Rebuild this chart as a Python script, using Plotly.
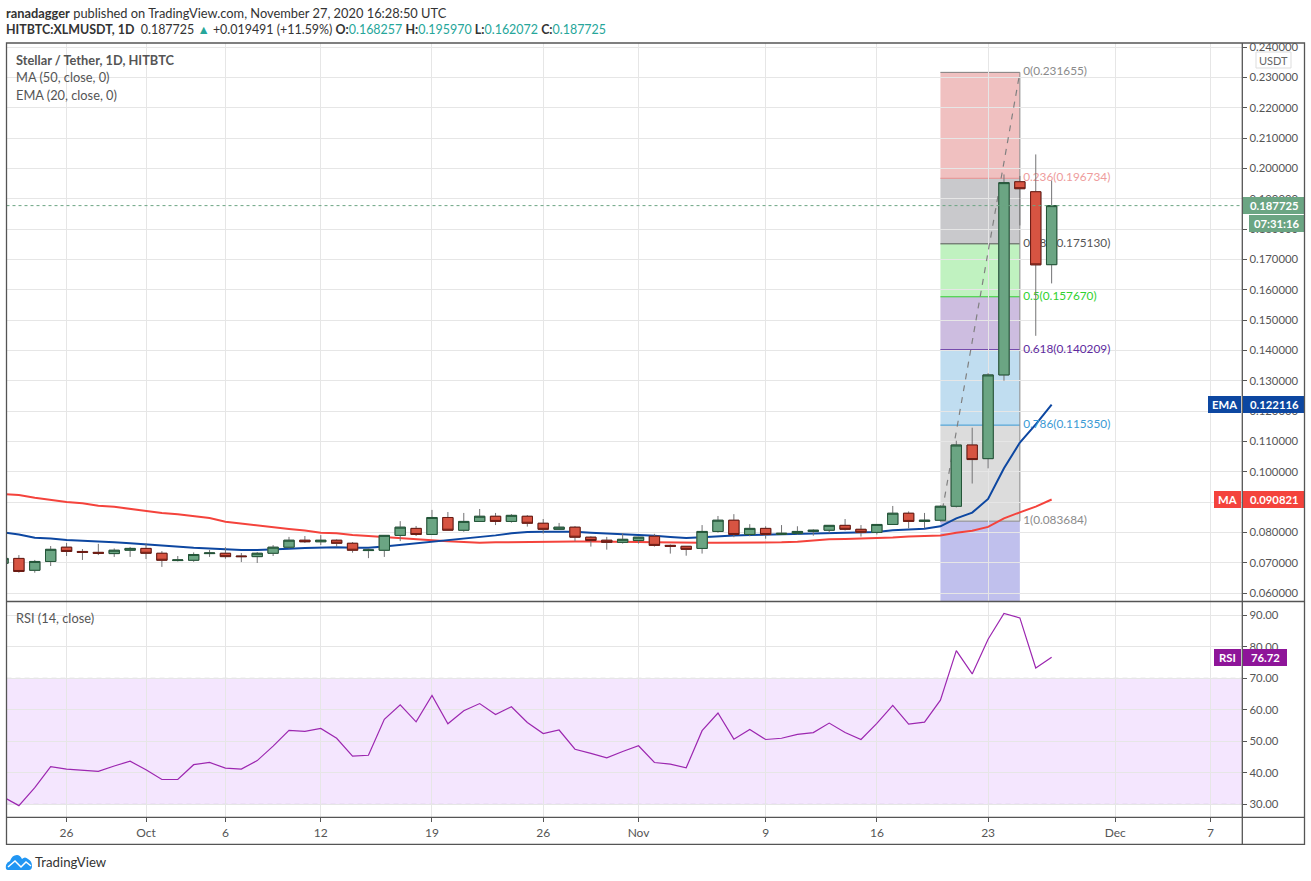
import pandas as pd
import plotly.graph_objects as go

W = 1311
H = 881

dates = pd.date_range("2020-09-22", periods=67).strftime("%Y-%m-%d").tolist()

opens = [.0698, .0714, .0675, .0704, .0751, .0737, .0734, .0730, .0741,
         .0747, .0731, .0707, .0708, .0730, .0731, .0722, .0720, .0731, .0751,
         .0774, .0769, .0774, .0764, .0740, .0741, .0790, .0813, .0793, .0849,
         .0807, .0836, .0853, .0836, .0853, .0830, .0810, .0817, .0784, .0774, .0767,
         .0773, .0787, .0757, .0754, .0747, .0803, .0840, .0793, .0813, .0793,
         .0796, .0803, .0807, .0823, .0810, .0800, .0826, .0863, .0836, .0840,
         .0886, .1088, .1043, .1319, .1956, .1923, .168257]
closes = [.0714, .0671, .0704, .0744, .0737, .0734, .0731, .0741, .0747,
          .0731, .0708, .0709, .0727, .0732, .0720, .0720, .0731, .0751, .0774,
          .0769, .0774, .0764, .0741, .0742, .0790, .0817, .0793, .0849, .0807,
          .0836, .0853, .0836, .0856, .0830, .0810, .0817, .0784, .0773, .0767, .0777,
          .0784, .0757, .0754, .0744, .0803, .0840, .0793, .0813, .0793, .0797,
          .0803, .0807, .0823, .0810, .0800, .0826, .0863, .0836, .0840, .0886,
          .1088, .1040, .1319, .1953, .1933, .1682, .187725]
highs = [.0716, .0725, .0709, .0755, .0765, .0745, .0762, .0747, .0752,
         .0764, .0738, .0722, .0734, .0742, .0751, .0732, .0735, .0758, .0785,
         .0788, .0791, .0777, .0768, .0747, .0791, .0837, .0821, .0874, .0867,
         .0864, .0877, .0864, .0860, .0857, .0844, .0831, .0821, .0787, .0785, .0797,
         .0785, .0795, .0760, .0755, .0824, .0854, .0860, .0827, .0820, .0824,
         .0820, .0810, .0823, .0844, .0824, .0826, .0887, .0869, .0864, .0889,
         .1102, .1145, .1325, .1980, .1975, .2046, .195970]
lows = [.0690, .0667, .0667, .0689, .0722, .0709, .0725, .0719, .0719,
        .0712, .0686, .0704, .0703, .0719, .0713, .0702, .0699, .0722, .0747,
        .0765, .0758, .0753, .0733, .0715, .0719, .0771, .0788, .0793, .0807,
        .0802, .0836, .0824, .0832, .0819, .0796, .0810, .0771, .0753, .0743, .0763,
        .0763, .0753, .0730, .0723, .0730, .0799, .0784, .0787, .0779, .0793,
        .0792, .0789, .0797, .0806, .0786, .0793, .0826, .0813, .0813, .0836,
        .0882, .0961, .1011, .1300, .1812, .1448, .162072]

ema20 = [.0800, .0793, .0782, .0780, .0775, .0773, .0770, .0767, .0764,
         .0760, .0755, .0753, .0749, .0747, .0744, .0742, .0742, .0743, .0746,
         .0748, .0749, .0751, .0749, .0749, .0753, .0758, .0763, .0770, .0775,
         .0778, .0785, .0790, .0797, .0801, .0802, .0802, .0802, .0799, .0797, .0795,
         .0792, .0789, .0785, .0781, .0784, .0788, .0790, .0791, .0792, .0793,
         .0795, .0796, .0797, .0798, .0799, .0801, .0807, .0810, .0812, .0820,
         .0846, .0865, .0910, .1011, .1096, .1156, .122116]
ma50 = [.0926, .0923, .0914, .0906, .0900, .0896, .0888, .0884, .0877,
        .0871, .0864, .0860, .0854, .0847, .0835, .0829, .0823, .0815, .0811,
        .0806, .0799, .0797, .0791, .0788, .0784, .0780, .0777, .0774, .0771,
        .0768, .0766, .0767, .0768, .0769, .0770, .0770, .0770, .0770, .0770, .0769,
        .0768, .0767, .0766, .0766, .0766, .0766, .0766, .0766, .0766, .0767,
        .0769, .0773, .0777, .0778, .0779, .0780, .0783, .0786, .0788, .0790,
        .0799, .0805, .0818, .0846, .0866, .0885, .090821]
rsi = [32.4, 29.6, 35.3, 42.0, 41.2, 40.8, 40.5, 42.2, 43.7,
       41.0, 37.9, 37.9, 42.6, 43.3, 41.5, 41.2, 43.9, 48.5, 53.5,
       53.2, 54.1, 51.0, 45.3, 45.6, 57.0, 61.6, 56.2, 64.6, 55.6,
       59.7, 62.0, 58.5, 61.0, 56.0, 52.5, 53.6, 47.5, 46.2, 44.8, 46.8,
       48.6, 43.3, 42.8, 41.6, 53.4, 59.0, 50.7, 53.8, 50.6, 51.0,
       52.2, 52.8, 55.8, 52.8, 50.6, 55.7, 61.4, 55.5, 56.1, 63.1,
       78.8, 71.4, 82.4, 90.6, 89.2, 73.3, 76.72]

fib_levels = ["0", "0.236", "0.382", "0.5", "0.618", "0.786", "1"]
fib_prices = [0.231655, 0.196734, 0.175130, 0.157670, 0.140209, 0.115350, 0.083684]
fib_lines = ["#7f7f7f", "#e88f8f", "#555555", "#2fd12f", "#5e2a9e", "#3a9ad4", "#8a8a8a"]
fib_fills = ["rgba(205,45,45,.3)", "rgba(75,75,85,.3)", "rgba(45,212,45,.3)", "rgba(88,35,152,.3)",
             "rgba(45,143,205,.3)", "rgba(138,138,138,.3)", "rgba(45,45,195,.3)"]
fib_start = "2020-11-20"
fib_end = "2020-11-25"
fib_text_x = "2020-11-25 05:00"

price_ticks = [0.06, 0.07, 0.08, 0.09, 0.10, 0.11, 0.12, 0.13, 0.14, 0.15, 0.16, 0.17,
               0.18, 0.19, 0.20, 0.21, 0.22, 0.23, 0.24]
rsi_ticks = [30, 40, 50, 60, 70, 80, 90]
date_ticks = ["2020-09-26", "2020-10-01", "2020-10-06", "2020-10-12", "2020-10-19", "2020-10-26",
              "2020-11-01", "2020-11-09", "2020-11-16", "2020-11-23", "2020-12-01", "2020-12-07"]
date_labels = ["26", "Oct", "6", "12", "19", "26", "Nov", "9", "16", "23", "Dec", "7"]

FONT = "Lato"
GRID = "#e6e6e6"
AXIS = "#555555"
TEXT = "#555555"
GREEN = "#6ba583"
RED = "#d75442"
TEAL = "#26a69a"
X_RANGE = ["2020-09-22 05:17", "2020-12-09 00:00"]
Y_RANGE = [0.0572, 0.24134]
LEFT, RIGHT, OUTER = 6.5, 1242.3, 1304.5
TOP, MID, BOTTOM, END = 43, 601.5, 817.3, 844.3


def px(x):
    return x / W


def py(y):
    return 1 - y / H


def box(x0, y0, x1, y1, fill, line=None, lw=0):
    return dict(type="rect", xref="paper", yref="paper", x0=px(x0), x1=px(x1), y0=py(y0), y1=py(y1),
                fillcolor=fill, line=dict(color=line or fill, width=lw), layer="above")


def label(x, y, text, size=12, color=TEXT, anchor="left"):
    return dict(xref="paper", yref="paper", x=px(x), y=py(y), text=text, showarrow=False,
                xanchor=anchor, yanchor="middle", font=dict(family=FONT, size=size, color=color),
                borderpad=0, align="left")


fig = go.Figure()

# lines and fib labels sit on the base axes, candles go on an overlay so they draw on top
fig.add_trace(go.Scatter(x=[fib_start, fib_end], y=[fib_prices[-1], fib_prices[0]], mode="lines",
                         line=dict(color="#808080", width=1.2, dash="6px,6px"), hoverinfo="skip"))
fig.add_trace(go.Scatter(x=dates, y=ma50, mode="lines", line=dict(color="#f4433c", width=2), name="MA"))
fig.add_trace(go.Scatter(x=dates, y=ema20, mode="lines", line=dict(color="#0d47a1", width=2), name="EMA"))
fig.add_trace(go.Scatter(x=[fib_text_x] * len(fib_prices), y=fib_prices, mode="text",
                         text=["%s(%.6f)" % (l, p) for l, p in zip(fib_levels, fib_prices)],
                         textposition="middle right",
                         textfont=dict(family=FONT, size=11.8, color=["#8a8a8a", "#ee9c9c", "#555555", "#2fd12f",
                                                                      "#5e2a9e", "#3a9ad4", "#8a8a8a"])))
fig.add_trace(go.Candlestick(x=dates, open=opens, high=highs, low=lows, close=closes,
                             xaxis="x3", yaxis="y3",
                             increasing=dict(line=dict(color="#737375", width=1), fillcolor=GREEN),
                             decreasing=dict(line=dict(color="#737375", width=1), fillcolor=RED)))
fig.add_trace(go.Candlestick(x=dates, open=opens, close=closes,
                             high=[max(o, c) for o, c in zip(opens, closes)],
                             low=[min(o, c) for o, c in zip(opens, closes)],
                             xaxis="x3", yaxis="y3",
                             increasing=dict(line=dict(color="#225437", width=1), fillcolor=GREEN),
                             decreasing=dict(line=dict(color="#6b1a12", width=1), fillcolor=RED)))
fig.add_trace(go.Scatter(x=dates, y=rsi, mode="lines", line=dict(color="#9c27b0", width=1.2),
                         xaxis="x2", yaxis="y2"))

shapes = []
# fib zones, the last one runs down past the pane bottom
zone_bottoms = fib_prices[1:] + [Y_RANGE[0]]
for top, bottom, fill in zip(fib_prices, zone_bottoms, fib_fills):
    shapes.append(dict(type="rect", xref="x", yref="y", x0=fib_start, x1=fib_end, y0=bottom, y1=top,
                       fillcolor=fill, line=dict(width=0), layer="below"))
for price, color in zip(fib_prices, fib_lines):
    shapes.append(dict(type="line", xref="x", yref="y", x0=fib_start, x1=fib_end, y0=price, y1=price,
                       line=dict(color=color, width=1), layer="below"))
shapes.append(dict(type="line", xref="x", yref="y", x0=fib_end, x1=fib_end, y0=fib_prices[-1], y1=fib_prices[0],
                   line=dict(color="#8a8a8a", width=1), layer="below"))
# last price
shapes.append(dict(type="line", xref="paper", yref="y", x0=px(LEFT), x1=px(RIGHT), y0=closes[-1], y1=closes[-1],
                   line=dict(color=GREEN, width=1, dash="dot"), layer="above"))
# rsi band
shapes.append(dict(type="rect", xref="paper", yref="y2", x0=px(LEFT), x1=px(RIGHT), y0=30, y1=70,
                   fillcolor="rgba(156,39,250,.115)", line=dict(width=0), layer="below"))
for level in [30, 70]:
    shapes.append(dict(type="line", xref="paper", yref="y2", x0=px(LEFT), x1=px(RIGHT), y0=level, y1=level,
                       line=dict(color="#b5adb9", width=1, dash="5px,4px"), layer="below"))

# hides the top of the clipped 0.24 label
shapes.append(box(RIGHT, 0, W, TOP, "#ffffff"))
shapes.append(box(1256, 52, 1291, 68, "#ffffff", "#dddddd", 1))
# price tags
shapes.append(box(1242, 197, OUTER, 214, GREEN))
shapes.append(box(1249, 215, OUTER, 232, GREEN))
shapes.append(box(1208, 396, 1241, 413, "#0d47a1"))
shapes.append(box(1243, 396, OUTER, 413, "#0d47a1"))
shapes.append(box(1214, 491, 1241, 508, "#f4433c"))
shapes.append(box(1243, 491, OUTER, 508, "#f4433c"))
shapes.append(box(1214, 649, 1241, 666, "#8e1599"))
shapes.append(box(1243, 649, 1287, 666, "#8e1599"))
# pane frame
shapes.append(box(LEFT, TOP, OUTER, END, "rgba(0,0,0,0)", AXIS, 1.3))
for y in [MID, BOTTOM]:
    shapes.append(dict(type="line", xref="paper", yref="paper", x0=px(LEFT), x1=px(OUTER), y0=py(y), y1=py(y),
                       line=dict(color=AXIS, width=1.3), layer="above"))
shapes.append(dict(type="line", xref="paper", yref="paper", x0=px(RIGHT), x1=px(RIGHT), y0=py(TOP), y1=py(END),
                   line=dict(color=AXIS, width=1.3), layer="above"))

# tradingview cloud
cloud = [(8, 870), (5, 870), (6, 865), (7, 862), (10, 861), (12, 855), (17, 855), (20, 855), (22, 859),
         (25, 856), (28, 859), (32, 861), (32, 866), (32, 870), (29, 870)]
path = "M %f,%f " % (px(cloud[0][0]), py(cloud[0][1]))
for i in range(1, len(cloud) - 1, 2):
    path += "Q %f,%f %f,%f " % (px(cloud[i][0]), py(cloud[i][1]), px(cloud[i + 1][0]), py(cloud[i + 1][1]))
path += "Z"
shapes.append(dict(type="path", xref="paper", yref="paper", path=path, fillcolor="#2196f3", line=dict(width=0)))
zig = [(8, 867), (15, 861), (21, 867), (26, 862), (31, 866)]
shapes.append(dict(type="path", xref="paper", yref="paper",
                   path="M " + " L ".join("%f,%f" % (px(a), py(b)) for a, b in zig),
                   line=dict(color="#ffffff", width=1.5)))

teal = lambda s: '<span style="color:%s">%s</span>' % (TEAL, s)
annotations = [
    label(5, 13, "<b>ranadagger</b> published on TradingView.com, November 27, 2020 16:28:50 UTC", 12.85, "#333333"),
    label(5, 29, "<b>HITBTC:XLMUSDT, 1D</b>  0.187725 " + teal("▲") + " +0.019491 (+11.59%) <b>O:</b>" + teal("0.168257")
          + " <b>H:</b>" + teal("0.195970") + " <b>L:</b>" + teal("0.162072") + " <b>C:</b>" + teal("0.187725"),
          12.45, "#333333"),
    label(15, 60, "<b>Stellar / Tether, 1D, HITBTC</b>", 12.8),
    label(15, 77, "MA (50, close, 0)", 12.8),
    label(15, 95, "EMA (20, close, 0)", 12.8),
    label(15, 618, "RSI (14, close)", 12.8),
    label(1273.5, 60, "USDT", 11, "#666666", "center"),
    label(1274, 205.5, "<b>%.6f</b>" % closes[-1], 11.3, "#ffffff", "center"),
    label(1277, 223.5, "<b>07:31:16</b>", 11.3, "#ffffff", "center"),
    label(1224.5, 404.5, "<b>EMA</b>", 11.3, "#ffffff", "center"),
    label(1274, 404.5, "<b>%.6f</b>" % ema20[-1], 11.3, "#ffffff", "center"),
    label(1227.5, 499.5, "<b>MA</b>", 11.3, "#ffffff", "center"),
    label(1274, 499.5, "<b>%.6f</b>" % ma50[-1], 11.3, "#ffffff", "center"),
    label(1227.5, 657.5, "<b>RSI</b>", 11.3, "#ffffff", "center"),
    label(1265, 657.5, "<b>%.2f</b>" % rsi[-1], 11.3, "#ffffff", "center"),
    label(34, 862, "TradingView", 13.2, "#333333"),
]

x_common = dict(range=X_RANGE, type="date", domain=[px(LEFT), px(RIGHT)], tickmode="array", tickvals=date_ticks,
                gridcolor=GRID, gridwidth=1, showgrid=True, zeroline=False, automargin=False,
                rangeslider=dict(visible=False))
y_common = dict(side="right", gridcolor=GRID, gridwidth=1, showgrid=True, zeroline=False, tickmode="array",
                automargin=False, ticks="outside", ticklen=4, tickcolor=AXIS,
                tickfont=dict(family=FONT, size=11.3, color=TEXT))

fig.update_layout(
    width=W,
    height=H,
    margin=dict(l=0, r=0, t=0, b=0),
    paper_bgcolor="#ffffff",
    plot_bgcolor="#ffffff",
    showlegend=False,
    boxgap=0.35,
    boxgroupgap=0,
    shapes=shapes,
    annotations=annotations,
    xaxis=dict(x_common, anchor="y", showticklabels=False),
    xaxis2=dict(x_common, anchor="y2", ticktext=date_labels, ticks="outside", ticklen=4, tickcolor=AXIS,
                tickfont=dict(family=FONT, size=12, color=TEXT)),
    xaxis3=dict(range=X_RANGE, type="date", anchor="y3", overlaying="x", visible=False, showgrid=False,
                automargin=False, rangeslider=dict(visible=False)),
    yaxis=dict(y_common, anchor="x", range=Y_RANGE, domain=[py(MID), py(TOP)], tickvals=price_ticks,
               tickformat=".6f"),
    yaxis2=dict(y_common, anchor="x2", range=[25.9, 94.4], domain=[py(BOTTOM), py(MID)], tickvals=rsi_ticks,
                tickformat=".2f"),
    yaxis3=dict(range=Y_RANGE, anchor="x3", overlaying="y", side="right", visible=False, showgrid=False,
                automargin=False),
)

fig.write_html("out.html", config={"displayModeBar": False},
               post_script="document.body.style.margin='0';document.documentElement.style.overflow='hidden';")
